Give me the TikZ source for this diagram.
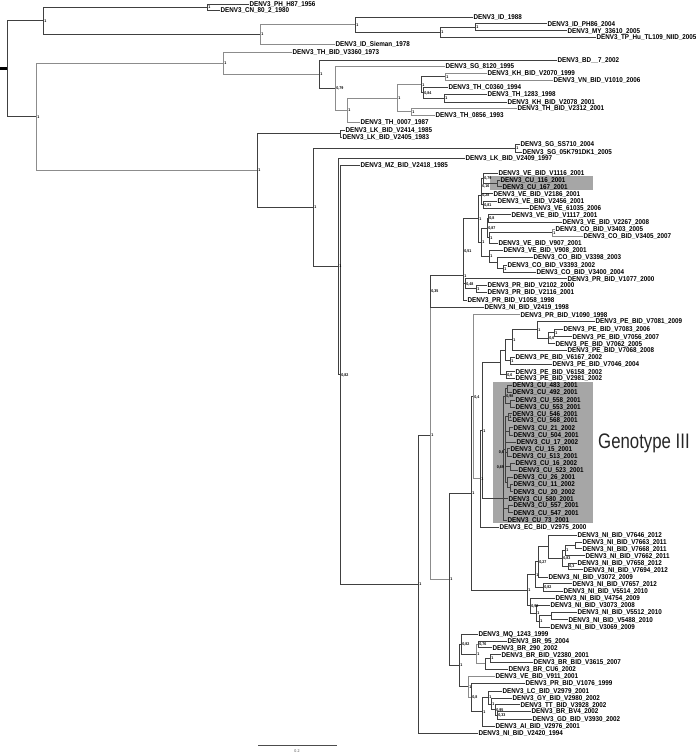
\documentclass[tikz,border=0pt]{standalone}
\usepackage{fontspec}
\newfontfamily\tipfont[FakeStretch=0.9]{Liberation Sans}
\newfontfamily\genofont[FakeStretch=0.8]{Liberation Sans}
\tikzset{
 br/.style={draw=black!75, line width=0.7pt},
 lt/.style={draw=black!45, line width=0.7pt},
 tl/.style={font=\tipfont\bfseries\fontsize{7}{7}\selectfont, anchor=west, inner sep=0.4pt, text height=5pt, text depth=0pt},
 sup/.style={font=\tipfont\bfseries\fontsize{4}{4}\selectfont, anchor=west, inner sep=0.3pt, text height=3pt, text depth=0pt, xshift=0.8pt},
 supl/.style={font=\tipfont\bfseries\fontsize{4}{4}\selectfont, anchor=east, inner sep=0.3pt, text height=3pt, text depth=0pt, xshift=-0.6pt},
 pt/.style={inner sep=0pt, minimum size=0pt, outer sep=0pt},
 gbox/.style={fill=black!35, draw=none, inner sep=0pt, anchor=north west},
}
\newcommand\tp[4]{\node[tl] (#1) at (#2,#3) {#4};}
\newcommand\nd[3]{\node[pt] (#1) at (#2,#3) {};}
\newcommand\sv[2]{\node[sup] (#1-l) at (#1) {#2};}
\newcommand\clade[4][br]{%
  \draw[#1] (#2 |- #3.west) -- (#2 |- #4.west);
  \draw[#1] (#2 |- #3.west) -- (#3.west);
  \draw[#1] (#2 |- #4.west) -- (#4.west);}
\newcommand\poly[3][br]{\foreach \c in {#3} {\draw[#1] (#2 |- \c.west) -- (\c.west);}}
\begin{document}
\begin{tikzpicture}[x=1pt,y=-1pt]
\useasboundingbox (0,0) rectangle (696,753);
% grey boxes
\node[gbox, minimum width=103pt, minimum height=14pt] (box1) at (490,176) {};
\node[gbox, minimum width=100pt, minimum height=141pt] (box2) at (493,382) {};
\node[font=\genofont\fontsize{21}{21}\selectfont, anchor=base west, inner sep=0pt, text=black!85] (geno) at (598,448) {Genotype III};
% ---------- tips ----------
\tp{tPH}{249}{4}{DENV3\_PH\_H87\_1956}
\tp{tCN}{220}{10}{DENV3\_CN\_80\_2\_1980}
\tp{tID88}{473}{17}{DENV3\_ID\_1988}
\tp{tIDPH}{547}{23.5}{DENV3\_ID\_PH86\_2004}
\tp{tMY}{567}{30.5}{DENV3\_MY\_33610\_2005}
\tp{tTP}{596}{37}{DENV3\_TP\_Hu\_TL109\_NIID\_2005}
\tp{tSie}{335}{44}{DENV3\_ID\_Sieman\_1978}
\tp{tV3360}{292}{52}{DENV3\_TH\_BID\_V3360\_1973}
\tp{tBD}{557}{60}{DENV3\_BD\_\_7\_2002}
\tp{tSG8120}{445}{66}{DENV3\_SG\_8120\_1995}
\tp{tKH2070}{487}{73}{DENV3\_KH\_BID\_V2070\_1999}
\tp{tVN}{553}{80}{DENV3\_VN\_BID\_V1010\_2006}
\tp{tTHC}{448}{87}{DENV3\_TH\_C0360\_1994}
\tp{tTH1283}{487}{94}{DENV3\_TH\_1283\_1998}
\tp{tKH2078}{507}{102}{DENV3\_KH\_BID\_V2078\_2001}
\tp{tV2312}{517}{108}{DENV3\_TH\_BID\_V2312\_2001}
\tp{tTH0856}{435}{115}{DENV3\_TH\_0856\_1993}
\tp{tTH0007}{360}{122}{DENV3\_TH\_0007\_1987}
\tp{tLK2414}{345}{130}{DENV3\_LK\_BID\_V2414\_1985}
\tp{tLK2405}{342}{137}{DENV3\_LK\_BID\_V2405\_1983}
\tp{tSS710}{520}{144}{DENV3\_SG\_SS710\_2004}
\tp{t05K}{522}{152}{DENV3\_SG\_05K791DK1\_2005}
\tp{tLK2409}{465}{158}{DENV3\_LK\_BID\_V2409\_1997}
\tp{tMZ}{360}{165}{DENV3\_MZ\_BID\_V2418\_1985}
\tp{tV1116}{498}{173}{DENV3\_VE\_BID\_V1116\_2001}
\tp{tCU116}{500}{180}{DENV3\_CU\_116\_2001}
\tp{tCU167}{502}{186.5}{DENV3\_CU\_167\_2001}
\tp{tV2186}{493}{193.5}{DENV3\_VE\_BID\_V2186\_2001}
\tp{tV2456}{497}{201}{DENV3\_VE\_BID\_V2456\_2001}
\tp{t61035}{529}{208}{DENV3\_VE\_61035\_2006}
\tp{tV1117}{511}{214.5}{DENV3\_VE\_BID\_V1117\_2001}
\tp{tV2267}{562}{222}{DENV3\_VE\_BID\_V2267\_2008}
\tp{tV3403}{555}{229}{DENV3\_CO\_BID\_V3403\_2005}
\tp{tV3405}{583}{236}{DENV3\_CO\_BID\_V3405\_2007}
\tp{tV907}{498}{243}{DENV3\_VE\_BID\_V907\_2001}
\tp{tV908}{503}{250}{DENV3\_VE\_BID\_V908\_2001}
\tp{tV3398}{533}{257}{DENV3\_CO\_BID\_V3398\_2003}
\tp{tV3393}{507}{265}{DENV3\_CO\_BID\_V3393\_2002}
\tp{tV3400}{536}{272}{DENV3\_CO\_BID\_V3400\_2004}
\tp{tPR1077}{567}{278.5}{DENV3\_PR\_BID\_V1077\_2000}
\tp{tPR2102}{487}{285}{DENV3\_PR\_BID\_V2102\_2000}
\tp{tPR2116}{487}{292}{DENV3\_PR\_BID\_V2116\_2001}
\tp{tPR1058}{467}{300}{DENV3\_PR\_BID\_V1058\_1998}
\tp{tNI2419}{484}{307}{DENV3\_NI\_BID\_V2419\_1998}
\tp{tPR1090}{520}{314.5}{DENV3\_PR\_BID\_V1090\_1998}
\tp{tPE7081}{595}{321}{DENV3\_PE\_BID\_V7081\_2009}
\tp{tPE7083}{563}{329}{DENV3\_PE\_BID\_V7083\_2006}
\tp{tPE7056}{572}{336.5}{DENV3\_PE\_BID\_V7056\_2007}
\tp{tPE7062}{555}{343.5}{DENV3\_PE\_BID\_V7062\_2005}
\tp{tPE7068}{567}{350}{DENV3\_PE\_BID\_V7068\_2008}
\tp{tPE6167}{515}{357}{DENV3\_PE\_BID\_V6167\_2002}
\tp{tPE7046}{552}{364}{DENV3\_PE\_BID\_V7046\_2004}
\tp{tPE6158}{515}{371.5}{DENV3\_PE\_BID\_V6158\_2002}
\tp{tPE2981}{515}{378}{DENV3\_PE\_BID\_V2981\_2002}
\tp{tCU483}{512}{385}{DENV3\_CU\_483\_2001}
\tp{tCU492}{512}{392}{DENV3\_CU\_492\_2001}
\tp{tCU558}{515}{400}{DENV3\_CU\_558\_2001}
\tp{tCU553}{515}{407}{DENV3\_CU\_553\_2001}
\tp{tCU546}{512}{413.5}{DENV3\_CU\_546\_2001}
\tp{tCU568}{512}{420}{DENV3\_CU\_568\_2001}
\tp{tCU21}{513}{427.5}{DENV3\_CU\_21\_2002}
\tp{tCU504}{513}{435}{DENV3\_CU\_504\_2001}
\tp{tCU17}{516}{442}{DENV3\_CU\_17\_2002}
\tp{tCU15}{510}{448.5}{DENV3\_CU\_15\_2001}
\tp{tCU513}{512}{456}{DENV3\_CU\_513\_2001}
\tp{tCU16}{515}{463}{DENV3\_CU\_16\_2002}
\tp{tCU523}{518}{470}{DENV3\_CU\_523\_2001}
\tp{tCU26}{513}{477}{DENV3\_CU\_26\_2001}
\tp{tCU11}{513}{484}{DENV3\_CU\_11\_2002}
\tp{tCU20}{513}{491.5}{DENV3\_CU\_20\_2002}
\tp{tCU580}{508}{498.5}{DENV3\_CU\_580\_2001}
\tp{tCU557}{513}{505}{DENV3\_CU\_557\_2001}
\tp{tCU547}{513}{512.5}{DENV3\_CU\_547\_2001}
\tp{tCU73}{507}{520}{DENV3\_CU\_73\_2001}
\tp{tEC}{499}{527}{DENV3\_EC\_BID\_V2975\_2000}
\tp{t7646}{577}{535}{DENV3\_NI\_BID\_V7646\_2012}
\tp{t7663}{582}{542}{DENV3\_NI\_BID\_V7663\_2011}
\tp{t7668}{582}{548.5}{DENV3\_NI\_BID\_V7668\_2011}
\tp{t7662}{585}{555.5}{DENV3\_NI\_BID\_V7662\_2011}
\tp{t7658}{577}{563}{DENV3\_NI\_BID\_V7658\_2012}
\tp{t7694}{583}{569.5}{DENV3\_NI\_BID\_V7694\_2012}
\tp{t3072}{548}{577}{DENV3\_NI\_BID\_V3072\_2009}
\tp{t7657}{572}{583.5}{DENV3\_NI\_BID\_V7657\_2012}
\tp{t5514}{563}{591}{DENV3\_NI\_BID\_V5514\_2010}
\tp{t4754}{555}{598}{DENV3\_NI\_BID\_V4754\_2009}
\tp{t3073}{550}{605}{DENV3\_NI\_BID\_V3073\_2008}
\tp{t5512}{577}{612}{DENV3\_NI\_BID\_V5512\_2010}
\tp{t5488}{568}{619.5}{DENV3\_NI\_BID\_V5488\_2010}
\tp{t3069}{550}{627}{DENV3\_NI\_BID\_V3069\_2009}
\tp{tMQ}{478}{634}{DENV3\_MQ\_1243\_1999}
\tp{tBR95}{507}{641}{DENV3\_BR\_95\_2004}
\tp{tBR290}{492}{647.5}{DENV3\_BR\_290\_2002}
\tp{tV2380}{501}{654.5}{DENV3\_BR\_BID\_V2380\_2001}
\tp{tV3615}{533}{662}{DENV3\_BR\_BID\_V3615\_2007}
\tp{tCU6}{508}{669}{DENV3\_BR\_CU6\_2002}
\tp{tV911}{495}{676}{DENV3\_VE\_BID\_V911\_2001}
\tp{tV1076}{525}{683}{DENV3\_PR\_BID\_V1076\_1999}
\tp{tLC}{502}{691}{DENV3\_LC\_BID\_V2979\_2001}
\tp{tGY}{512}{698}{DENV3\_GY\_BID\_V2980\_2002}
\tp{tTT}{520}{704.5}{DENV3\_TT\_BID\_V3928\_2002}
\tp{tBV4}{531}{711}{DENV3\_BR\_BV4\_2002}
\tp{tGD}{532}{719}{DENV3\_GD\_BID\_V3930\_2002}
\tp{tAI}{495}{726}{DENV3\_AI\_BID\_V2976\_2001}
\tp{tNI2420}{478}{733}{DENV3\_NI\_BID\_V2420\_1994}
% ---------- internal nodes ----------
\nd{R0}{7}{68.6} \nd{A}{43}{20.6} \nd{A1}{207}{7} \nd{A2}{260}{34.25}
\nd{A3}{355}{24.5} \nd{A4}{440}{32} \nd{A5}{475}{27}
\nd{B}{36}{116.65} \nd{B1}{223}{63} \nd{B2}{319}{74} \nd{B3}{335}{88}
\nd{B4}{347}{110} \nd{B5}{397}{98} \nd{B6}{421}{84.5} \nd{KV}{445}{76.5}
\nd{B7}{423}{92.5} \nd{B9}{444}{98} \nd{B8}{411}{111.5}
\nd{C}{257}{170.3} \nd{C1}{340}{133.5} \nd{D}{313}{207.15} \nd{Dsg}{515}{148}
\nd{E1}{338}{266.3} \nd{E2}{340}{374.6} \nd{F}{418}{584.15} \nd{G}{430}{435.3}
\nd{H}{430}{291.25} \nd{I}{463}{275.5} \nd{J}{463}{251.1} \nd{L}{465}{283.5} \nd{AV}{476}{288.5}
\nd{K}{478}{218.7} \nd{n0}{483}{178.1} \nd{cu1}{497}{183.25} \nd{n1}{481}{185.8}
\nd{n2}{481}{195.15} \nd{n3}{483}{204.5} \nd{nd}{481}{242.2} \nd{nb}{487}{228}
\nd{nc}{488}{218.25} \nd{na}{489}{237.75} \nd{co1}{552}{232.5} \nd{ne}{489}{256.4}
\nd{nf}{497}{262.75} \nd{ng}{503}{268.5}
\nd{N}{449}{579.3} \nd{O}{471}{493.3} \nd{Q}{473}{396.6} \nd{R}{480}{478.75} \nd{S}{482}{430.5}
\nd{PG}{500}{362.45} \nd{pea}{554}{332.75} \nd{peb}{548}{338.1} \nd{pec}{537}{329.55}
\nd{ped}{512}{339.8} \nd{pef}{510}{360.5} \nd{pee}{505}{350.15} \nd{peh}{506}{374.75}
\nd{CU0}{503}{498.5} \nd{cuA}{507}{388.5} \nd{cuB}{510}{403.5} \nd{cuC}{505}{396}
\nd{cuD}{508}{416.75} \nd{cuE}{509}{431.25} \nd{cuG}{507}{452.25} \nd{cuH}{510}{466.5}
\nd{cuJ}{510}{487.75} \nd{cuI}{507}{482.4} \nd{cuK}{508}{508.75} \nd{cuU}{505}{449.6}
\nd{P}{527}{590.05} \nd{AJ}{535}{574.5} \nd{AL}{538}{561.8} \nd{AN}{548}{546.65}
\nd{AO}{562}{558.3} \nd{AP}{565}{550.4} \nd{AR}{575}{545.25} \nd{AQ}{568}{566.25}
\nd{AM}{543}{587.25} \nd{AK}{530}{605.6} \nd{AS}{536}{613.2} \nd{AT}{539}{621.4} \nd{AU}{551}{615.75}
\nd{T}{459}{665.3} \nd{U}{461}{643.95} \nd{W}{476}{653.9} \nd{X}{478}{644.25}
\nd{Y}{485}{663.6} \nd{Z}{490}{658.25} \nd{V}{468}{686.7} \nd{AC}{471}{697.35}
\nd{AD}{482}{711.7} \nd{AE}{488}{697.45} \nd{AF}{491}{703.9} \nd{AG}{495}{709.75} \nd{AH}{497}{715}
% ---------- branches ----------
\draw[line width=2.6pt, black] (R0) -- ++(-7,0);
\clade{R0}{A}{B}
\clade{A}{A1}{A2}
\clade{A1}{tPH}{tCN}
\clade[lt]{A2}{A3}{tSie}
\clade{A3}{tID88}{A4}
\clade{A4}{A5}{tTP}
\clade{A5}{tIDPH}{tMY}
\clade[lt]{B}{B1}{C}
\clade[lt]{B1}{tV3360}{B2}
\clade{B2}{tBD}{B3}
\clade[lt]{B3}{tSG8120}{B4}
\clade[lt]{B4}{B5}{tTH0007}
\clade[lt]{B5}{B6}{B8}
\clade{B6}{KV}{B7}
\clade[lt]{KV}{tKH2070}{tVN}
\clade{B7}{tTHC}{B9}
\clade{B9}{tTH1283}{tKH2078}
\clade[lt]{B8}{tV2312}{tTH0856}
\clade{C}{C1}{D}
\clade{C1}{tLK2414}{tLK2405}
\clade{D}{Dsg}{E1}
\clade{Dsg}{tSS710}{t05K}
\clade{E1}{tLK2409}{E2}
\clade{E2}{tMZ}{F}
\clade{F}{G}{tNI2420}
\clade[lt]{G}{H}{N}
\clade{H}{I}{tNI2419}
\clade{I}{J}{tPR1058}
\clade{J}{K}{L}
\clade{L}{tPR1077}{AV}
\clade{AV}{tPR2102}{tPR2116}
\clade{K}{n2}{nd}
\clade{n2}{n1}{n3}
\clade{n1}{n0}{tV2186}
\clade{n0}{tV1116}{cu1}
\clade{cu1}{tCU116}{tCU167}
\clade{n3}{tV2456}{t61035}
\clade{nd}{nb}{ne}
\clade{nb}{nc}{na}
\clade{nc}{tV1117}{tV2267}
\clade{na}{co1}{tV907}
\clade[lt]{co1}{tV3403}{tV3405}
\clade{ne}{tV908}{nf}
\clade{nf}{tV3398}{ng}
\clade{ng}{tV3393}{tV3400}
\clade{N}{O}{T}
\clade{O}{Q}{P}
\clade[lt]{Q}{tPR1090}{R}
\clade{R}{S}{tEC}
\clade{S}{PG}{CU0}
\clade{PG}{pee}{peh}
\clade{pee}{ped}{pef}
\clade{ped}{pec}{tPE7068}
\clade{pec}{tPE7081}{peb}
\clade{peb}{pea}{tPE7062}
\clade{pea}{tPE7083}{tPE7056}
\clade{pef}{tPE6167}{tPE7046}
\clade{peh}{tPE6158}{tPE2981}
% Cuban clade
\draw[br] (CU0 |- cuC) -- (CU0 |- tCU73);
\poly{CU0}{cuC,cuU,tCU580,cuK,tCU73}
\draw[br] (cuU |- cuD) -- (cuU |- cuI);
\poly{cuU}{cuD,cuE,tCU17,cuG,cuH,cuI}
\clade{cuC}{cuA}{cuB}
\clade{cuA}{tCU483}{tCU492}
\clade{cuB}{tCU558}{tCU553}
\clade{cuD}{tCU546}{tCU568}
\clade{cuE}{tCU21}{tCU504}
\clade{cuG}{tCU15}{tCU513}
\clade{cuH}{tCU16}{tCU523}
\clade{cuI}{tCU26}{cuJ}
\clade{cuJ}{tCU11}{tCU20}
\clade{cuK}{tCU557}{tCU547}
% Nicaraguan clade
\clade{P}{AJ}{AK}
\clade{AJ}{AL}{AM}
\clade{AL}{AN}{t3072}
\clade{AN}{t7646}{AO}
\clade{AO}{AP}{AQ}
\clade{AP}{AR}{t7662}
\clade{AR}{t7663}{t7668}
\clade{AQ}{t7658}{t7694}
\clade{AM}{t7657}{t5514}
\clade{AK}{t4754}{AS}
\clade{AS}{t3073}{AT}
\clade{AT}{AU}{t3069}
\clade{AU}{t5512}{t5488}
% lower clade
\clade{T}{U}{V}
\clade{U}{tMQ}{W}
\clade[lt]{W}{X}{Y}
\clade{X}{tBR95}{tBR290}
\clade{Y}{Z}{tCU6}
\clade{Z}{tV2380}{tV3615}
\clade[lt]{V}{tV911}{AC}
\clade{AC}{tV1076}{AD}
\clade{AD}{AE}{tAI}
\clade{AE}{tLC}{AF}
\clade{AF}{tGY}{AG}
\clade{AG}{tTT}{AH}
\clade{AH}{tBV4}{tGD}
% ---------- support values ----------
\sv{A}{1} \sv{A1}{1} \sv{A2}{1} \sv{A3}{1} \sv{A4}{1} \sv{A5}{1}
\sv{B}{1} \sv{B1}{1} \sv{B2}{1} \sv{B3}{0,79} \sv{B4}{1} \sv{B5}{1} \sv{B6}{1}
\sv{B7}{0,84} \sv{KV}{1} \sv{B9}{1} \sv{B8}{1}
\sv{C}{1} \sv{D}{1} \sv{Dsg}{1} \sv{E1}{1} \sv{E2}{0,82} \sv{F}{1} \sv{G}{1}
\sv{H}{0,35} \sv{I}{1} \sv{J}{0,51} \sv{L}{0,48} \sv{AV}{1} \sv{K}{1}
\sv{n0}{0,79} \sv{n1}{0,16} \sv{n2}{0,28} \sv{n3}{0,81} \sv{nc}{0,8} \sv{nb}{0,87}
\sv{na}{1} \sv{nd}{1} \sv{ne}{1} \sv{co1}{1} \sv{ng}{1}
\sv{Q}{0,4} \sv{R}{1} \sv{S}{1} \sv{O}{1} \sv{N}{1}
\sv{pea}{1} \sv{peb}{0,6} \sv{pec}{1} \sv{ped}{1} \sv{pef}{1} \sv{peh}{0,6}
\sv{cuC}{0,98} \sv{cuD}{1}
\node[supl] (cuG-l) at (cuU |- cuG) {0,6};
\node[supl] (cuH-l) at (cuU |- cuH) {0,69};
\sv{P}{1} \sv{AJ}{1} \sv{AL}{0,27} \sv{AO}{0,83} \sv{AP}{1} \sv{AQ}{0,3} \sv{AM}{0,82}
\sv{AK}{0,98} \sv{AS}{1} \sv{AT}{1}
\sv{T}{1} \sv{U}{0,82} \sv{W}{1} \sv{X}{0,76} \sv{Z}{1} \sv{V}{1} \sv{AC}{0,8}
\sv{AD}{1} \sv{AE}{1} \sv{AF}{1} \sv{AG}{0,95} \sv{AH}{0,33}
% ---------- scale bar ----------
\node[pt] (sb1) at (258,745) {};
\node[pt] (sb2) at (337,745) {};
\draw[black!70, line width=0.6pt] (sb1) -- (sb2);
\node[font=\tipfont\fontsize{4}{4}\selectfont, text=black!70, inner sep=0pt] (sbl) at (297,751) {0.2};
\end{tikzpicture}
\end{document}
